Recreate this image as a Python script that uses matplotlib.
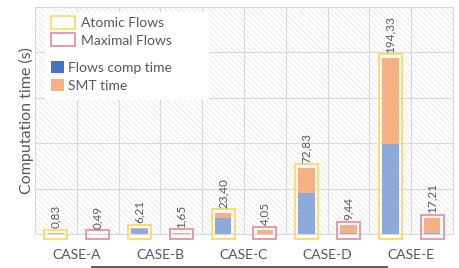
import matplotlib.pyplot as plt
from matplotlib.patches import Patch, Rectangle
from matplotlib.lines import Line2D

plt.rcParams['font.family'] = ['Lato', 'DejaVu Sans']
plt.rcParams['hatch.linewidth'] = 0.5
plt.rcParams['hatch.color'] = '#dcdcdc'

cases = ['CASE-A', 'CASE-B', 'CASE-C', 'CASE-D', 'CASE-E']
# per case: atomic then maximal
totals = [0.83, 0.49, 6.21, 1.65, 23.40, 4.05, 72.83, 9.44, 194.33, 17.21]
labels = ['0,83', '0,49', '6,21', '1,65', '23,40', '4,05', '72,83', '9,44', '194,33', '17,21']
flows_time = [0.2, 0.05, 5.5, 0.1, 17.5, 0.2, 44.7, 0.6, 99.0, 1.5]
smt_time = [t - f for t, f in zip(totals, flows_time)]
kinds = ['atomic', 'maximal'] * 5

YELLOW = '#ffd966'
PINK = '#e693a5'
BLUE = '#8eaadb'
BLUE_LEG = '#4472c4'
ORANGE = '#f4b183'
GREY = '#595959'
GRID = '#d9d9d9'


def main():
   fig = plt.figure(figsize=(4.59, 2.68), dpi=100)
   ax = fig.add_axes([35 / 459, 34 / 268, 418 / 459, 227 / 268])

   # hatched plot background
   ax.add_patch(Rectangle((0, 0), 1, 1, transform=ax.transAxes, facecolor='white',
                          hatch='\\\\\\\\\\\\', edgecolor='#e3e3e3', lw=0, zorder=0))

   x = list(range(len(totals)))
   pad_top, pad_bot = 4, 5.5
   for xi, tot, kind in zip(x, totals, kinds):
      ec = YELLOW if kind == 'atomic' else PINK
      ax.bar(xi, tot + pad_top + pad_bot, bottom=-pad_bot, width=0.55, facecolor='none',
             edgecolor=ec, linewidth=1.3, clip_on=False, zorder=3)
   ax.bar(x, flows_time, width=0.4, color=BLUE, zorder=2)
   ax.bar(x, smt_time, bottom=flows_time, width=0.4, color=ORANGE, zorder=2)
   for xi, tot, lab in zip(x, totals, labels):
      ax.text(xi, tot + pad_top + 1.5, lab, rotation=90, ha='center', va='bottom',
              fontsize=8.5, color=GREY, zorder=4)

   ax.set_xlim(-0.5, 9.5)
   ax.set_ylim(0, 250)
   ax.set_yticks([0, 50, 100, 150, 200, 250])
   ax.set_yticklabels([])
   ax.set_xticks([0.5, 2.5, 4.5, 6.5, 8.5])
   ax.set_xticklabels(cases, fontsize=10, color=GREY)
   ax.set_xticks([i + 0.5 for i in range(-1, 10)], minor=True)
   ax.xaxis.remove_overlapping_locs = False
   ax.tick_params(axis='both', which='both', length=0)
   ax.tick_params(axis='x', pad=11)
   ax.grid(True, which='major', axis='y', color=GRID, lw=0.8, zorder=1)
   ax.grid(True, which='minor', axis='x', color=GRID, lw=0.8, zorder=1)
   ax.set_axisbelow(True)
   for s in ax.spines.values():
      s.set_color(GRID)
      s.set_linewidth(0.8)
   ax.set_ylabel('Computation time (s)', fontsize=11.5, color=GREY, labelpad=-3)

   # legend
   ax.add_patch(Rectangle((10 / 418, 134 / 227), 164 / 418, 88 / 227, transform=ax.transAxes,
                          facecolor='white', edgecolor='none', zorder=4))
   h1 = [Patch(facecolor='white', edgecolor=YELLOW, lw=1.3),
         Patch(facecolor='white', edgecolor=PINK, lw=1.3)]
   leg1 = ax.legend(h1, ['Atomic Flows', 'Maximal Flows'], loc='upper left',
                    bbox_to_anchor=(16 / 418, 218 / 227), frameon=False, fontsize=10,
                    handlelength=1.75, handleheight=1.05, handletextpad=0.4,
                    labelspacing=0.3, borderpad=0, borderaxespad=0, labelcolor=GREY)
   ax.add_artist(leg1)
   h2 = [Patch(facecolor=BLUE_LEG), Patch(facecolor=ORANGE)]
   ax.legend(h2, ['Flows comp time', 'SMT time'], loc='upper left',
             bbox_to_anchor=(16 / 418, 173 / 227), frameon=False, fontsize=10,
             handlelength=0.95, handleheight=1.0, handletextpad=0.25,
             labelspacing=0.35, borderpad=0, borderaxespad=0, labelcolor=GREY)

   fig.add_artist(Line2D([92 / 459, 387 / 459], [1.5 / 268, 1.5 / 268],
                         transform=fig.transFigure, color='#404040', lw=1.2))

   fig.savefig('out.png', dpi=100)


if __name__ == "__main__":
   main()
